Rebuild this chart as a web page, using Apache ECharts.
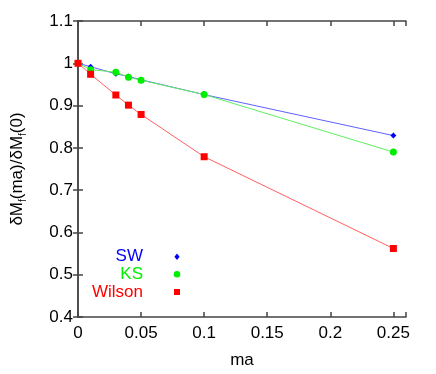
<!DOCTYPE html>
<html>
<head>
<meta charset="utf-8">
<script src="https://cdn.jsdelivr.net/npm/echarts@6/dist/echarts.min.js"></script>
<style>html,body{margin:0;padding:0;background:#fff;}#c{width:436px;height:374px;}</style>
</head>
<body>
<div id="c"></div>
<script>
var maValues = [0, 0.01, 0.03, 0.04, 0.05, 0.1, 0.25];
var swValues = [1.0, 0.992, 0.975, 0.969, 0.961, 0.926, 0.829];
var ksValues = [1.0, 0.985, 0.979, 0.967, 0.960, 0.926, 0.790];
var wilsonValues = [1.0, 0.974, 0.925, 0.901, 0.879, 0.779, 0.562];
var xTicks = [0, 0.05, 0.1, 0.15, 0.2, 0.25];
var yTicks = [0.4, 0.5, 0.6, 0.7, 0.8, 0.9, 1, 1.1];
var seriesNames = ['SW', 'KS', 'Wilson'];

function pairs(ys) { return maValues.map(function (x, i) { return [x, ys[i]]; }); }

var FONT = 'Liberation Sans';
var AX = '#444';
var chart = echarts.init(document.getElementById('c'), null, { renderer: 'canvas' });

function xAx(pos, show) {
  return {
    type: 'value', position: pos, min: 0, max: 0.26, interval: 0.05,
    axisLine: { show: true, lineStyle: { color: AX, width: 1.5 } },
    axisTick: { show: true, inside: true, length: 5, lineStyle: { color: AX, width: 1.5 } },
    axisLabel: { show: show, color: '#000', fontFamily: FONT, fontSize: 17, margin: 8,
      formatter: function (v) { return xTicks.some(function (t) { return Math.abs(t - v) < 1e-9; }) ? String(+v.toFixed(2)) : ''; } },
    splitLine: { show: false },
    name: show ? 'ma' : '', nameLocation: 'middle', nameGap: 35,
    nameTextStyle: { color: '#000', fontFamily: FONT, fontSize: 17 }
  };
}
function yAx(pos, show) {
  return {
    type: 'value', position: pos, min: 0.4, max: 1.1, interval: 0.1,
    axisLine: { show: true, lineStyle: { color: AX, width: 1.5 } },
    axisTick: { show: true, inside: true, length: 5, lineStyle: { color: AX, width: 1.5 } },
    axisLabel: { show: show, color: '#000', fontFamily: FONT, fontSize: 17, margin: 5,
      formatter: function (v) { return String(+v.toFixed(1)); } },
    splitLine: { show: false },
    name: show ? '{n|δM}{s|f}{n|(ma)/δM}{s|f}{n|(0)}' : '', nameLocation: 'middle', nameGap: 52, nameRotate: 90,
    nameTextStyle: { color: '#000', fontFamily: FONT, fontSize: 17,
      rich: { n: { fontFamily: FONT, fontSize: 17, color: '#000' },
              s: { fontFamily: FONT, fontSize: 10, color: '#000', verticalAlign: 'bottom', padding: [0, 0, -2, 0] } } }
  };
}

var colors = ['#0000ff', '#00ee00', '#ff0000'];
var lineColors = ['#6060ff', '#60f060', '#ff6060'];
var symbols = ['diamond', 'circle', 'rect'];
var sizes = [6, 7, 7];
var data = [swValues, ksValues, wilsonValues];

var series = [];
for (var i = 0; i < 3; i++) {
  series.push({
    name: seriesNames[i], type: 'line', data: pairs(data[i]), smooth: false,
    symbol: symbols[i], symbolSize: sizes[i], showAllSymbol: true,
    itemStyle: { color: colors[i] }, lineStyle: { color: lineColors[i], width: 1 },
    z: 2 + i, animation: false
  });
}

var legendX = 143, legendY = [256.7, 274.3, 292], legendSym = 177;
var graphics = [];
for (var j = 0; j < 3; j++) {
  graphics.push({ type: 'text', x: legendX, y: legendY[j],
    style: { text: seriesNames[j], fill: colors[j], font: '17px "Liberation Sans"', textAlign: 'right', textVerticalAlign: 'middle' } });
  if (symbols[j] === 'circle') {
    graphics.push({ type: 'circle', shape: { cx: legendSym, cy: legendY[j], r: 3.3 }, style: { fill: colors[j] } });
  } else if (symbols[j] === 'rect') {
    graphics.push({ type: 'rect', shape: { x: legendSym - 3, y: legendY[j] - 3, width: 6, height: 6 }, style: { fill: colors[j] } });
  } else {
    graphics.push({ type: 'polygon', shape: { points: [[legendSym, legendY[j] - 3.2], [legendSym + 2.6, legendY[j]], [legendSym, legendY[j] + 3.2], [legendSym - 2.6, legendY[j]]] }, style: { fill: colors[j] } });
  }
}

chart.setOption({
  backgroundColor: '#fff',
  animation: false,
  grid: { left: 78, right: 30, top: 21, bottom: 52, containLabel: false },
  xAxis: [xAx('bottom', true), xAx('top', false)],
  yAxis: [yAx('left', true), yAx('right', false)],
  series: series,
  graphic: graphics
});
</script>
</body>
</html>
